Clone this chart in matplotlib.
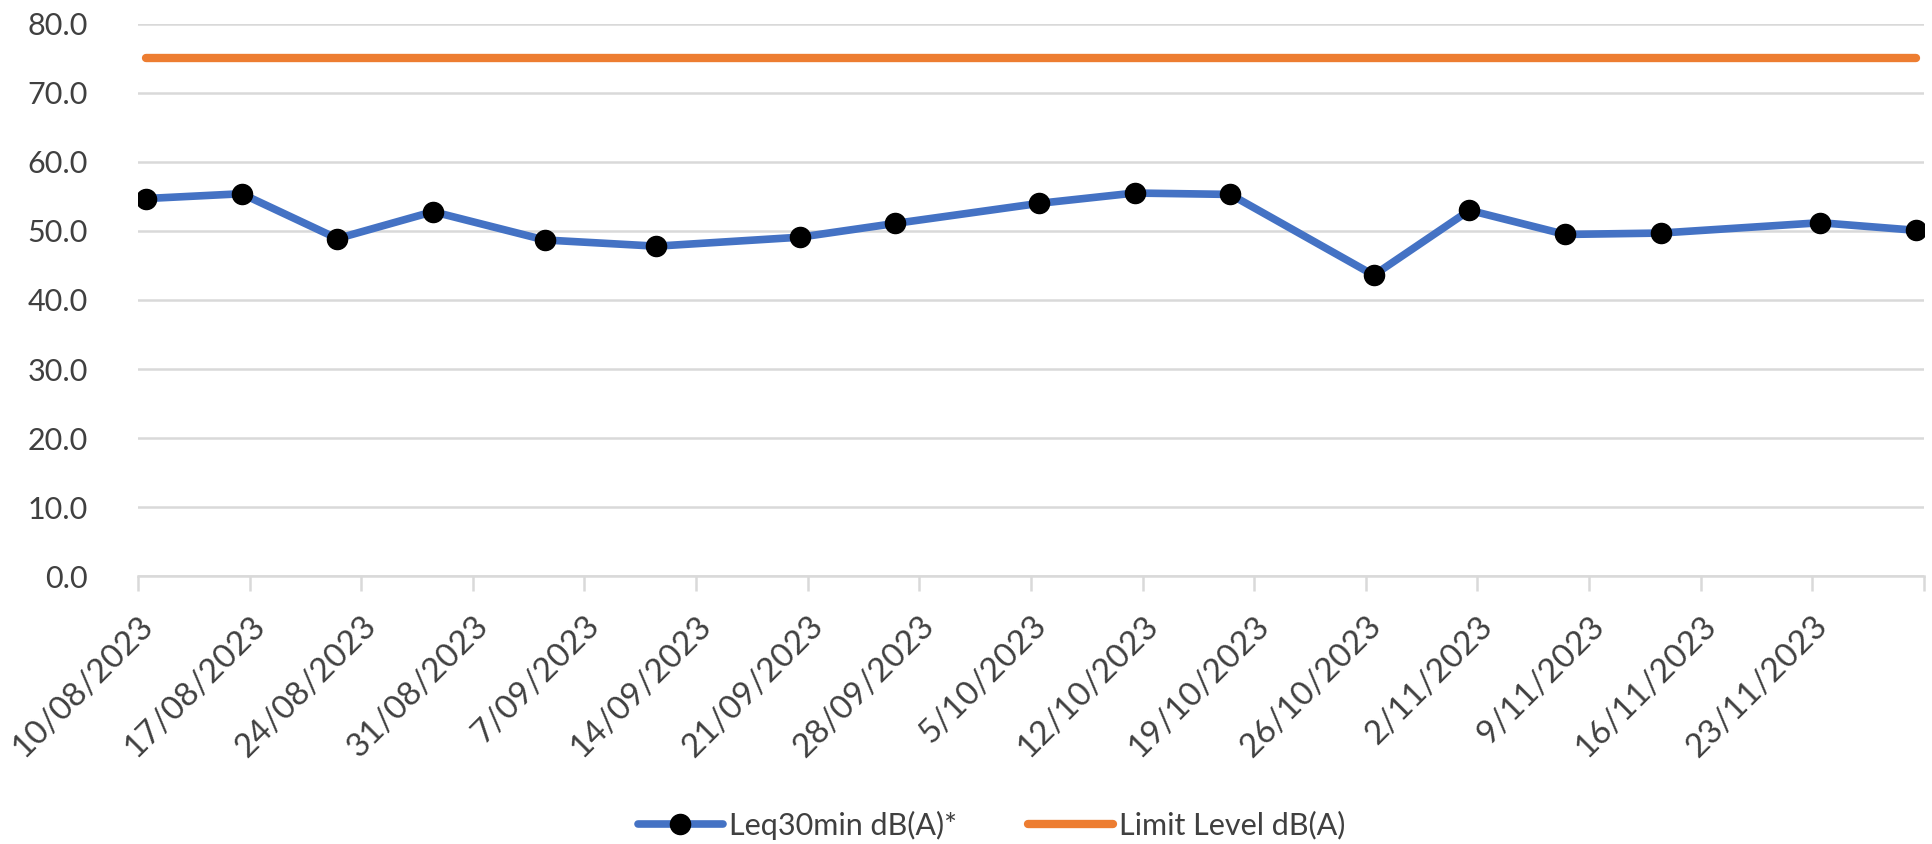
import pandas as pd
import matplotlib
matplotlib.use("Agg")
import matplotlib.pyplot as plt
import matplotlib.dates as mdates

plt.rcParams['font.family'] = ['Lato', 'DejaVu Sans']

# measurement dates and levels
dates = ["2023-08-10", "2023-08-16", "2023-08-22", "2023-08-28", "2023-09-04",
         "2023-09-11", "2023-09-20", "2023-09-26", "2023-10-05", "2023-10-11",
         "2023-10-17", "2023-10-26", "2023-11-01", "2023-11-07", "2023-11-13",
         "2023-11-23", "2023-11-29"]
leq = [54.7, 55.4, 48.9, 52.8, 48.7, 47.8, 49.1, 51.1, 54.0, 55.5,
       55.3, 43.6, 53.0, 49.5, 49.7, 51.2, 50.1]
limit = [75.0] * len(dates)

tick_dates = pd.date_range("2023-08-10", "2023-11-30", freq="7D")

x = mdates.date2num(pd.to_datetime(dates)) + 0.5  # excel puts points mid-day
ticks = mdates.date2num(tick_dates)
labels = [f"{d.day}/{d.month:02d}/{d.year}" for d in tick_dates]
labels[-1] = ""

text_col = "#404040"
grid_col = "#d9d9d9"

fig = plt.figure(figsize=(19.33, 8.44), dpi=100)
ax = fig.add_axes([0.0714, 0.3175, 0.9239, 0.6541])

ax.plot(x, leq, color="#4472c4", lw=5.5, marker="o", ms=14.5,
        mfc="black", mec="black", solid_capstyle="round",
        label="Leq30min dB(A)*", zorder=3)
ax.plot(x, limit, color="#ed7d31", lw=6, solid_capstyle="round",
        label="Limit Level dB(A)", zorder=3)

ax.set_ylim(0, 80)
ax.set_yticks(range(0, 81, 10))
ax.set_yticklabels([f"{v:.1f}" for v in range(0, 81, 10)])
ax.set_xlim(ticks[0], ticks[-1])
ax.set_xticks(ticks)
ax.set_xticklabels(labels, rotation=45, ha="right", va="top",
                   rotation_mode="anchor")

ax.grid(axis="y", color=grid_col, lw=1.8)
ax.set_axisbelow(True)
for s in ["top", "right", "left"]:
    ax.spines[s].set_visible(False)
ax.spines["bottom"].set_color(grid_col)
ax.spines["bottom"].set_linewidth(1.8)
ax.spines["bottom"].set_zorder(1)

ax.tick_params(axis="y", length=0, pad=36, labelsize=22, labelcolor=text_col)
ax.tick_params(axis="x", length=11, width=1.8, color=grid_col, direction="out",
               pad=14, labelsize=24, labelcolor=text_col)

fig.legend(loc="center", bbox_to_anchor=(0.513, 0.0225), ncol=2, frameon=False,
           fontsize=22, labelcolor=text_col, handlelength=2.8, handletextpad=0.2,
           columnspacing=2.3)

fig.savefig("out.png", dpi=100)
